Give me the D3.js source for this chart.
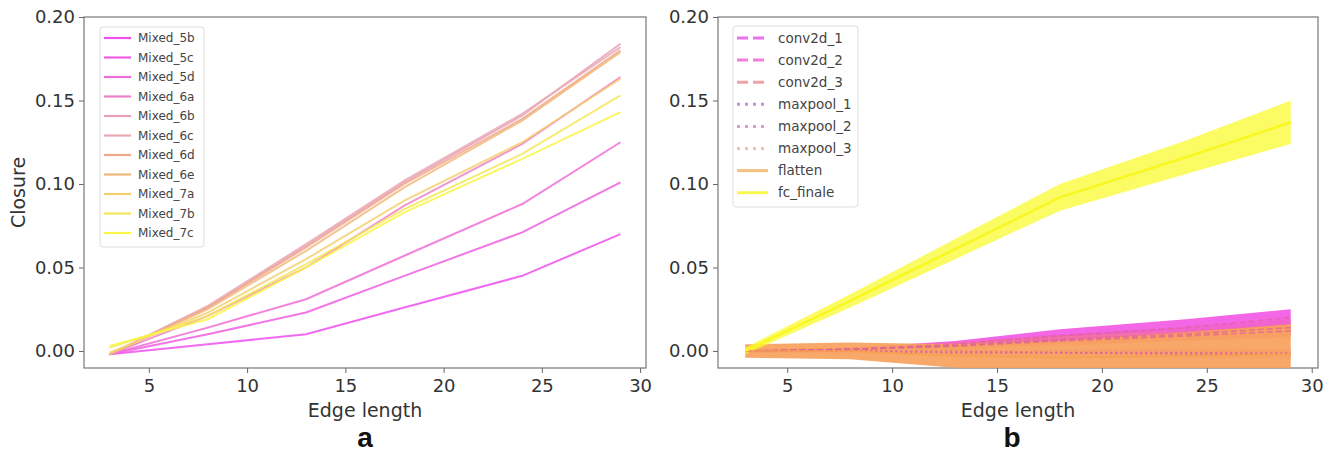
<!DOCTYPE html>
<html>
<head>
<meta charset="utf-8">
<script src="https://d3js.org/d3.v7.min.js"></script>
<style>
  body { margin: 0; background: #fff; }
  svg text { font-family: "DejaVu Sans", sans-serif; }
  .axis path, .axis line { stroke: #666; }
  .axis text { fill: #333; }
</style>
</head>
<body>
<div id="chart"></div>
<script>
// x values shared by both panels
var edgeLengths = [3, 8, 13, 18, 24, 29];
var xTicks = [5, 10, 15, 20, 25, 30];
var yTicks = [0.00, 0.05, 0.10, 0.15, 0.20];

// panel a: closure per Inception block
var mixedNames = ["Mixed_5b", "Mixed_5c", "Mixed_5d", "Mixed_6a", "Mixed_6b", "Mixed_6c",
    "Mixed_6d", "Mixed_6e", "Mixed_7a", "Mixed_7b", "Mixed_7c"];
var mixed5b = [-0.002, 0.004, 0.010, 0.026, 0.045, 0.070];
var mixed5c = [-0.002, 0.010, 0.023, 0.045, 0.071, 0.101];
var mixed5d = [-0.002, 0.014, 0.031, 0.057, 0.088, 0.125];
var mixed6a = [-0.002, 0.021, 0.050, 0.087, 0.124, 0.164];
var mixed6b = [-0.002, 0.026, 0.063, 0.101, 0.141, 0.184];
var mixed6c = [-0.002, 0.027, 0.064, 0.102, 0.142, 0.182];
var mixed6d = [-0.002, 0.026, 0.062, 0.100, 0.139, 0.180];
var mixed6e = [-0.002, 0.025, 0.060, 0.098, 0.138, 0.179];
var mixed7a = [-0.001, 0.023, 0.055, 0.090, 0.125, 0.163];
var mixed7b = [0.002, 0.021, 0.052, 0.085, 0.118, 0.153];
var mixed7c = [0.003, 0.019, 0.050, 0.083, 0.115, 0.143];
var mixedValues = [mixed5b, mixed5c, mixed5d, mixed6a, mixed6b, mixed6c,
    mixed6d, mixed6e, mixed7a, mixed7b, mixed7c];
var mixedColors = ["#ee50ee", "#f05ee2", "#f06ed6", "#ee82c8", "#eaa0b8", "#eaaab4",
    "#f0a88c", "#f2b87c", "#f5d070", "#f6e65a", "#f8f646"];

// panel b: closure per small-net layer, mean and spread
var layerNames = ["conv2d_1", "conv2d_2", "conv2d_3", "maxpool_1", "maxpool_2", "maxpool_3", "flatten", "fc_finale"];
var conv1Mean = [0.000, 0.001, 0.004, 0.009, 0.014, 0.020];
var conv2Mean = [0.000, 0.001, 0.003, 0.007, 0.010, 0.014];
var conv3Mean = [0.000, 0.001, 0.003, 0.006, 0.009, 0.012];
var pool1Mean = [0.000, 0.000, -0.001, -0.001, -0.001, -0.002];
var pool2Mean = [0.000, 0.000, -0.001, -0.001, -0.002, -0.002];
var pool3Mean = [0.000, 0.000, 0.000, -0.001, -0.001, -0.001];
var flattenMean = [0.000, 0.000, -0.003, -0.004, -0.003, -0.002];
var fcMean = [0.000, 0.030, 0.061, 0.092, 0.116, 0.137];
var conv1Std = [0.001, 0.001, 0.002, 0.004, 0.005, 0.005];
var conv2Std = [0.001, 0.001, 0.002, 0.003, 0.004, 0.005];
var conv3Std = [0.001, 0.001, 0.002, 0.003, 0.003, 0.004];
var pool1Std = [0.001, 0.001, 0.002, 0.002, 0.003, 0.003];
var pool2Std = [0.001, 0.001, 0.002, 0.002, 0.003, 0.003];
var pool3Std = [0.001, 0.001, 0.002, 0.002, 0.003, 0.003];
var flattenStd = [0.004, 0.005, 0.007, 0.010, 0.014, 0.018];
var fcStd = [0.002, 0.004, 0.006, 0.008, 0.010, 0.013];
var layerMeans = [conv1Mean, conv2Mean, conv3Mean, pool1Mean, pool2Mean, pool3Mean, flattenMean, fcMean];
var layerStds = [conv1Std, conv2Std, conv3Std, pool1Std, pool2Std, pool3Std, flattenStd, fcStd];
var layerColors = ["#f040f0", "#f060d0", "#f48a98", "#c080d8", "#dc96c0", "#f2b8a8", "#f6a050", "#f8f820"];
var layerFills = ["#f040e0", "#f060c0", "#f48080", "#c080d8", "#dc96c0", "#f2b8a8", "#f7a15c", "#fafa30"];
var layerFillOpacity = [0.8, 0.6, 0.5, 0.3, 0.3, 0.3, 0.92, 0.75];
var legendColors = ["#f070f0", "#f080d8", "#f4a0a8", "#c090d8", "#dca0c8", "#f2c0b4", "#f4c080", "#f8f850"];
var layerDash = ["6,3", "6,3", "6,3", "2,3", "2,3", "2,3", null, null];
var legendDash = ["11,5", "11,5", "11,5", "3,5", "3,5", "3,5", null, null];

var w = 1336;
var h = 452;
var plotTop = 17, plotBottom = 368;
var svg = d3.select("#chart")
    .append("svg")
    .attr("width", w)
    .attr("height", h);

var yScale = d3.scaleLinear().domain([-0.0102, 0.20]).range([plotBottom, plotTop]);
var line = d3.line()
    .x(function (d) { return d[0]; })
    .y(function (d) { return d[1]; });

function drawFrame(g, xScale, left, right, showYLabel) {
    g.append("g")
        .attr("class", "axis")
        .attr("transform", "translate(0," + plotBottom + ")")
        .call(d3.axisBottom(xScale).tickValues(xTicks).tickSize(5).tickPadding(6).tickFormat(d3.format("d")))
        .call(function (a) { a.select(".domain").remove(); })
        .selectAll("text").style("font-size", "18px");
    g.append("g")
        .attr("class", "axis")
        .attr("transform", "translate(" + left + ",0)")
        .call(d3.axisLeft(yScale).tickValues(yTicks).tickSize(5).tickPadding(4).tickFormat(d3.format(".2f")))
        .call(function (a) { a.select(".domain").remove(); })
        .selectAll("text").style("font-size", "18px");
    g.append("rect")
        .attr("x", left).attr("y", plotTop)
        .attr("width", right - left).attr("height", plotBottom - plotTop)
        .attr("fill", "none").attr("stroke", "#777").attr("stroke-width", 1.2);
    g.append("text")
        .attr("x", (left + right) / 2).attr("y", 417)
        .attr("text-anchor", "middle").attr("fill", "#333")
        .style("font-size", "19px")
        .text("Edge length");
    if (showYLabel) {
        g.append("text")
            .attr("transform", "translate(25," + (plotTop + plotBottom) / 2 + ") rotate(-90)")
            .attr("text-anchor", "middle").attr("fill", "#333")
            .style("font-size", "19px")
            .text("Closure");
    }
}

// ---- panel a
var xA = d3.scaleLinear().domain([1.7, 30.3]).range([84, 646]);
var gA = svg.append("g");
drawFrame(gA, xA, 84, 646, true);

gA.selectAll(".mixed")
    .data(mixedValues)
    .enter().append("path")
    .attr("class", "mixed")
    .attr("fill", "none")
    .attr("stroke", function (d, i) { return mixedColors[i]; })
    .attr("stroke-width", 2)
    .attr("stroke-opacity", 0.85)
    .attr("d", function (d) {
        return line(d.map(function (v, j) { return [xA(edgeLengths[j]), yScale(v)]; }));
    });

var legA = gA.append("g").attr("transform", "translate(100,27)");
legA.append("rect")
    .attr("width", 104).attr("height", 220).attr("rx", 3)
    .attr("fill", "#fff").attr("fill-opacity", 0.85)
    .attr("stroke", "#ddd");
var itemsA = legA.selectAll(".item")
    .data(mixedNames)
    .enter().append("g")
    .attr("transform", function (d, i) { return "translate(0," + (11 + i * 19.5) + ")"; });
itemsA.append("line")
    .attr("x1", 4).attr("x2", 31)
    .attr("stroke", function (d, i) { return mixedColors[i]; })
    .attr("stroke-width", 2.2);
itemsA.append("text")
    .attr("x", 38).attr("dy", "0.35em")
    .attr("fill", "#444")
    .style("font-size", "12px")
    .text(function (d) { return d; });

svg.append("text")
    .attr("x", 365).attr("y", 447)
    .attr("text-anchor", "middle")
    .style("font-family", "Liberation Sans, Arial, sans-serif")
    .style("font-weight", "bold").style("font-size", "28px")
    .attr("fill", "#111")
    .text("a");

// ---- panel b
var xB = d3.scaleLinear().domain([1.7, 30.3]).range([718, 1318]);
var gB = svg.append("g");
drawFrame(gB, xB, 718, 1318, false);

svg.append("clipPath").attr("id", "clipB")
    .append("rect").attr("x", 718).attr("y", plotTop).attr("width", 600).attr("height", plotBottom - plotTop);

var plotB = gB.append("g").attr("clip-path", "url(#clipB)");
var area = d3.area()
    .x(function (d) { return d[0]; })
    .y0(function (d) { return d[1]; })
    .y1(function (d) { return d[2]; });

layerMeans.forEach(function (m, i) {
    var pts = m.map(function (v, j) {
        return [xB(edgeLengths[j]), yScale(v - layerStds[i][j]), yScale(v + layerStds[i][j])];
    });
    plotB.append("path")
        .attr("d", area(pts))
        .attr("fill", layerFills[i])
        .attr("fill-opacity", layerFillOpacity[i]);
});

plotB.selectAll(".layer")
    .data(layerMeans)
    .enter().append("path")
    .attr("class", "layer")
    .attr("fill", "none")
    .attr("stroke", function (d, i) { return i < 6 ? "#e0609a" : layerColors[i]; })
    .attr("stroke-opacity", function (d, i) { return i < 6 ? 0.7 : 1; })
    .attr("stroke-width", function (d, i) { return i == 7 ? 2.5 : 1.6; })
    .attr("stroke-dasharray", function (d, i) { return layerDash[i]; })
    .attr("d", function (d) {
        return line(d.map(function (v, j) { return [xB(edgeLengths[j]), yScale(v)]; }));
    });

var legB = gB.append("g").attr("transform", "translate(733,26)");
legB.append("rect")
    .attr("width", 125).attr("height", 181).attr("rx", 3)
    .attr("fill", "#fff").attr("fill-opacity", 0.85)
    .attr("stroke", "#ddd");
var itemsB = legB.selectAll(".item")
    .data(layerNames)
    .enter().append("g")
    .attr("transform", function (d, i) { return "translate(0," + (12 + i * 22.1) + ")"; });
itemsB.append("line")
    .attr("x1", 4).attr("x2", 35)
    .attr("stroke", function (d, i) { return legendColors[i]; })
    .attr("stroke-width", 3)
    .attr("stroke-dasharray", function (d, i) { return legendDash[i]; });
itemsB.append("text")
    .attr("x", 45).attr("dy", "0.35em")
    .attr("fill", "#444")
    .style("font-size", "13.5px")
    .text(function (d) { return d; });

svg.append("text")
    .attr("x", 1012).attr("y", 447)
    .attr("text-anchor", "middle")
    .style("font-family", "Liberation Sans, Arial, sans-serif")
    .style("font-weight", "bold").style("font-size", "28px")
    .attr("fill", "#111")
    .text("b");
</script>
</body>
</html>
